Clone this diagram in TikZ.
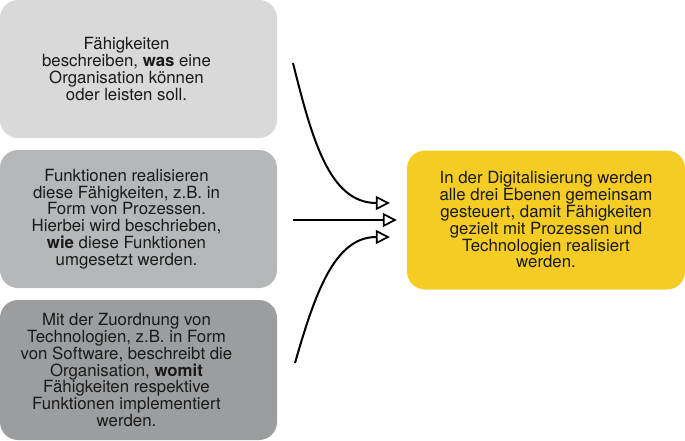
\documentclass[tikz,border=0pt]{standalone}
\usepackage{fontspec}
\setmainfont{TeX Gyre Heros}
\usepackage{xcolor}
\usetikzlibrary{arrows.meta}
\definecolor{boxA}{HTML}{D9D9D9}
\definecolor{boxB}{HTML}{B5B7B9}
\definecolor{boxC}{HTML}{9B9D9F}
\definecolor{boxY}{HTML}{F4CC24}
\definecolor{txt}{HTML}{1A1A1A}
\begin{document}
\begin{tikzpicture}[x=1pt,y=1pt,
	layer/.style={rounded corners=18pt,minimum width=277pt,minimum height=138pt,
		align=center,text=txt,font=\fontsize{16.8}{16.8}\selectfont,inner sep=0pt},
	layertext/.style={label={[xshift=-12pt,align=center,text=txt,
		font=\fontsize{16.8}{16.8}\selectfont,inner sep=0pt]center:#1}},
	flow/.style={line width=2pt,-{Triangle[open,length=14pt,width=14pt,line width=1.7pt]}}]
	\useasboundingbox (0,0) rectangle (685,440);
	\node[layer,fill=boxA,layertext={F\"ahigkeiten\\beschreiben, \textbf{was} eine\\Organisation k\"onnen\\oder leisten soll.}] (faehig) at (138.5,371) {};
	\node[layer,fill=boxB,layertext={Funktionen realisieren\\diese F\"ahigkeiten, z.B. in\\Form von Prozessen.\\Hierbei wird beschrieben,\\\textbf{wie} diese Funktionen\\umgesetzt werden.}] (funkt) at (138.5,221) {};
	\node[layer,fill=boxC,minimum height=140pt,layertext={Mit der Zuordnung von\\Technologien, z.B. in Form\\von Software, beschreibt die\\Organisation, \textbf{womit}\\F\"ahigkeiten respektive\\Funktionen implementiert\\werden.}] (techno) at (138.5,70) {};
	\node[layer,fill=boxY,minimum width=278pt,minimum height=139pt] (digital) at (546,220) {In der Digitalisierung werden\\alle drei Ebenen gemeinsam\\gesteuert, damit F\"ahigkeiten\\gezielt mit Prozessen und\\Technologien realisiert\\werden.};
	\coordinate (fromA) at (293,377);
	\coordinate (fromB) at (293,220);
	\coordinate (fromC) at (295,77);
	\draw[flow,shorten >=17pt] (fromA) to[out=-76,in=180,looseness=1.1] ([yshift=17pt]digital.west);
	\draw[flow,shorten >=10pt] (fromB) -- (digital.west);
	\draw[flow,shorten >=17pt] (fromC) to[out=74,in=180,looseness=1.1] ([yshift=-17pt]digital.west);
\end{tikzpicture}
\end{document}
